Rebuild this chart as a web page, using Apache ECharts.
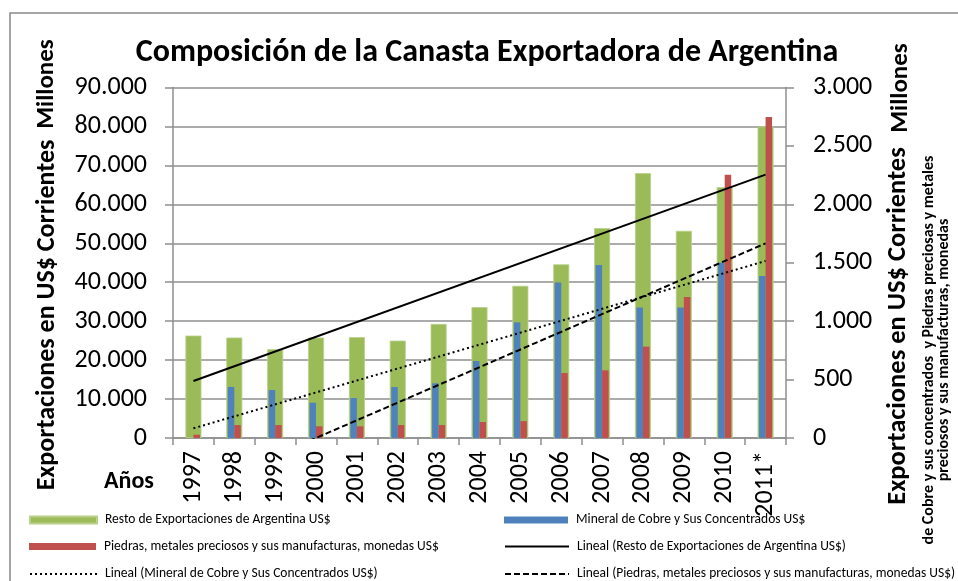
<!DOCTYPE html>
<html>
<head>
<meta charset="utf-8">
<script src="https://cdn.jsdelivr.net/npm/echarts@6/dist/echarts.min.js"></script>
<style>
html,body{margin:0;padding:0;background:#fff;}
#c{width:958px;height:581px;}
</style>
</head>
<body>
<div id="c"></div>
<script>
// ---- data ----
const categories = ['1997','1998','1999','2000','2001','2002','2003','2004','2005','2006','2007','2008','2009','2010','2011*'];
const restoExport = [26300, 25800, 22800, 25800, 25900, 25000, 29300, 33600, 39100, 44600, 53900, 68000, 53200, 64400, 80000];
const cobre = [0, 437, 411, 302, 342, 436, 468, 659, 990, 1332, 1481, 1118, 1118, 1501, 1387];
const piedras = [28, 111, 111, 100, 100, 111, 111, 137, 145, 556, 579, 782, 1207, 2254, 2748];
// trend lines: endpoints (first and last category)
const trendResto = [14640, null, null, null, null, null, null, null, null, null, null, null, null, null, 67620];
const trendCobre = [83, null, null, null, null, null, null, null, null, null, null, null, null, null, 1515];
const trendPiedras = [-454, null, null, null, null, null, null, null, null, null, null, null, null, null, 1666];
const leftTicks = {min: 0, max: 90000, interval: 10000};
const rightTicks = {min: 0, max: 3000, interval: 500};

const names = {
  resto: 'Resto de Exportaciones de Argentina US$',
  cobre: 'Mineral de Cobre y Sus Concentrados US$',
  piedras: 'Piedras, metales preciosos y sus manufacturas, monedas US$',
  tResto: 'Lineal (Resto de Exportaciones de Argentina US$)',
  tCobre: 'Lineal (Mineral de Cobre y Sus Concentrados US$)',
  tPiedras: 'Lineal (Piedras, metales preciosos y sus manufacturas, monedas US$)'
};

const FONT = 'Calibri, Carlito, Lato, sans-serif';
const fmt = v => String(v).replace(/\B(?=(\d{3})+(?!\d))/g, '.');
const gridColor = '#8f8f8f';
const hidden = {color: 'rgba(0,0,0,0)', borderColor: 'rgba(0,0,0,0)', borderWidth: 0};

function legendAt(left, centerY, name, isLine, w) {
  const item = {name: name};
  if (isLine) item.itemStyle = hidden; else item.icon = 'rect';
  return {
    orient: 'horizontal', left: left, top: centerY - 8, itemWidth: w, itemHeight: 7, padding: 0,
    textStyle: {fontSize: 13.5, color: '#000', fontFamily: FONT, padding: [0, 0, 0, 3]},
    data: [item]
  };
}

const chart = echarts.init(document.getElementById('c'), null, {renderer: 'canvas'});
chart.setOption({
  backgroundColor: '#fff',
  animation: false,
  textStyle: {fontFamily: FONT},
  grid: {left: 173, right: 172, top: 87.5, bottom: 143, containLabel: false},
  xAxis: [
    {
      type: 'category', data: categories, position: 'bottom',
      axisLine: {lineStyle: {color: gridColor, width: 1.5}},
      axisTick: {show: true, length: 7, alignWithLabel: false, lineStyle: {color: gridColor, width: 1.5}},
      axisLabel: {rotate: 90, fontSize: 26, color: '#000', margin: 13, fontFamily: FONT, interval: 0}
    },
    {type: 'category', data: categories, show: false}
  ],
  yAxis: [
    {
      type: 'value', min: leftTicks.min, max: leftTicks.max, interval: leftTicks.interval,
      axisLine: {show: true, lineStyle: {color: gridColor, width: 1.5}},
      axisTick: {show: true, length: 8, lineStyle: {color: gridColor, width: 1.5}},
      splitLine: {show: true, lineStyle: {color: gridColor, width: 1.5}},
      axisLabel: {fontSize: 26, color: '#000', margin: 26, formatter: fmt, fontFamily: FONT}
    },
    {
      type: 'value', position: 'right', min: rightTicks.min, max: rightTicks.max, interval: rightTicks.interval,
      axisLine: {show: true, lineStyle: {color: gridColor, width: 1.5}},
      axisTick: {show: true, length: 8, lineStyle: {color: gridColor, width: 1.5}},
      splitLine: {show: false},
      axisLabel: {fontSize: 26, color: '#000', margin: 27, formatter: fmt, fontFamily: FONT}
    }
  ],
  legend: [
    legendAt(29, 521, names.resto, false, 67),
    legendAt(29, 547.5, names.piedras, false, 67),
    legendAt(29, 575, names.tCobre, true, 67),
    legendAt(504, 521, names.cobre, false, 64),
    legendAt(504, 547.5, names.tResto, true, 64),
    legendAt(504, 575, names.tPiedras, true, 64)
  ],
  series: [
    {name: names.resto, type: 'bar', xAxisIndex: 0, yAxisIndex: 0, data: restoExport, barWidth: 16,
     itemStyle: {color: '#9BBB59', borderColor: '#b9d08a', borderWidth: 0.8}, z: 2},
    {name: names.cobre, type: 'bar', xAxisIndex: 1, yAxisIndex: 1, data: cobre, barWidth: 6.5, barGap: '0%',
     itemStyle: {color: '#4F81BD'}, z: 3},
    {name: names.piedras, type: 'bar', xAxisIndex: 1, yAxisIndex: 1, data: piedras, barWidth: 6.5, barGap: '0%',
     itemStyle: {color: '#C0504D'}, z: 3},
    {name: names.tResto, type: 'line', xAxisIndex: 0, yAxisIndex: 0, data: trendResto, connectNulls: true,
     symbol: 'none', lineStyle: {color: '#000', width: 2, type: 'solid'}, itemStyle: {color: '#000'}, z: 5},
    {name: names.tCobre, type: 'line', xAxisIndex: 0, yAxisIndex: 1, data: trendCobre, connectNulls: true,
     symbol: 'none', lineStyle: {color: '#000', width: 2, type: [2, 3]}, itemStyle: {color: '#000'}, z: 5},
    {name: names.tPiedras, type: 'line', xAxisIndex: 0, yAxisIndex: 1, data: trendPiedras, connectNulls: true,
     symbol: 'none', lineStyle: {color: '#000', width: 2, type: [6, 3]}, itemStyle: {color: '#000'}, z: 5, clip: true}
  ],
  graphic: [
    {type: 'rect', shape: {x: 10, y: 13, width: 960, height: 600}, style: {fill: 'none', stroke: '#888', lineWidth: 1.5}, silent: true},
    {type: 'text', x: 487, y: 53, style: {text: 'Composición de la Canasta Exportadora de Argentina', font: 'bold 32px ' + FONT, fill: '#000', align: 'center', verticalAlign: 'middle'}},
    {type: 'text', x: 47, y: 315, rotation: Math.PI / 2, style: {text: 'Exportaciones en US$ Corrientes', font: 'bold 26px ' + FONT, fill: '#000', align: 'center', verticalAlign: 'middle'}},
    {type: 'text', x: 47, y: 84, rotation: Math.PI / 2, style: {text: 'Millones', font: 'bold 25px ' + FONT, fill: '#000', align: 'center', verticalAlign: 'middle'}},
    {type: 'text', x: 898, y: 326, rotation: Math.PI / 2, style: {text: 'Exportaciones en US$ Corrientes', font: 'bold 26.5px ' + FONT, fill: '#000', align: 'center', verticalAlign: 'middle'}},
    {type: 'text', x: 901, y: 88, rotation: Math.PI / 2, style: {text: 'Millones', font: 'bold 25px ' + FONT, fill: '#000', align: 'center', verticalAlign: 'middle'}},
    {type: 'text', x: 929, y: 350, rotation: Math.PI / 2, style: {text: 'de Cobre y sus concentrados  y Piedras preciosas y metales', font: 'bold 16px ' + FONT, fill: '#000', align: 'center', verticalAlign: 'middle'}},
    {type: 'text', x: 944, y: 350, rotation: Math.PI / 2, style: {text: 'preciosos y sus manufacturas, monedas', font: 'bold 16px ' + FONT, fill: '#000', align: 'center', verticalAlign: 'middle'}},
    {type: 'text', x: 104, y: 482, style: {text: 'Años', font: 'bold 24px ' + FONT, fill: '#000', align: 'left', verticalAlign: 'middle'}}
  ]
});
</script>
</body>
</html>
